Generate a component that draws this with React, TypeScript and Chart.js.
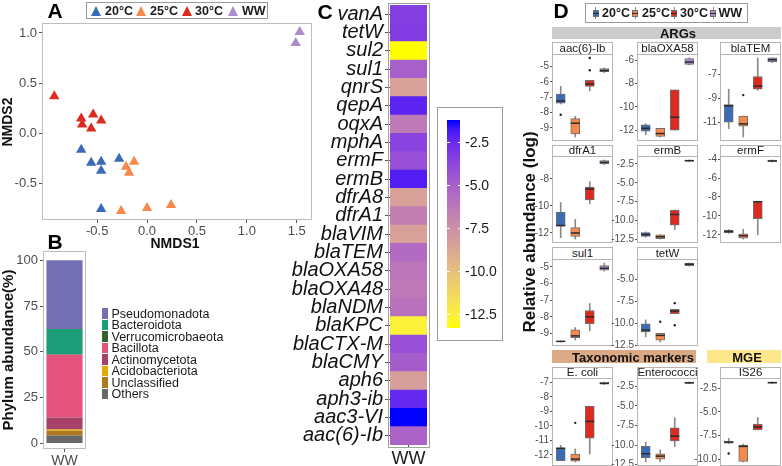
import React, { useEffect, useRef } from 'react';
import { Chart, registerables } from 'chart.js';

Chart.register(...registerables);

const FONT = '"Liberation Sans", Arial, Helvetica, sans-serif';
Chart.defaults.font.family = FONT;
Chart.defaults.color = '#4d4d4d';

// ---------- shared groups ----------
const groups = ['20°C', '25°C', '30°C', 'WW'];
const groupColors = ['#3A6BB5', '#F58A4C', '#DD2A1F', '#AC8DCB'];

// ---------- Panel A: NMDS ----------
const nmds20X = [-0.66, -0.56, -0.46, -0.46, -0.28, -0.46];
const nmds20Y = [-0.16, -0.29, -0.28, -0.37, -0.25, -0.75];
const nmds25X = [-0.13, -0.21, -0.18, -0.26, 0.0, 0.24];
const nmds25Y = [-0.28, -0.33, -0.39, -0.77, -0.74, -0.71];
const nmds30X = [-0.93, -0.66, -0.65, -0.54, -0.46, -0.56];
const nmds30Y = [0.37, 0.15, 0.09, 0.19, 0.13, 0.05];
const nmdsWWX = [1.53, 1.49];
const nmdsWWY = [1.01, 0.9];
const nmdsXTicks = [-0.5, 0, 0.5, 1, 1.5];
const nmdsYTicks = [-0.5, 0, 0.5, 1];

// ---------- Panel B: phylum composition (bottom to top) ----------
const phyla = ['Others', 'Unclassified', 'Acidobacteriota', 'Actinomycetota', 'Bacillota', 'Verrucomicrobaeota', 'Bacteroidota', 'Pseudomonadota'];
const phylumPct = [4.4, 2.6, 0.6, 6.6, 34.2, 0.3, 13.8, 37.5];
const phylumColors = ['#686868', '#AD781F', '#E6AB02', '#A8416A', '#E5527C', '#35622F', '#1B9E77', '#7570B3'];
const phylumTicks = [0, 25, 50, 75, 100];

// ---------- Panel C: heatmap ----------
const genes = ['vanA', 'tetW', 'sul2', 'sul1', 'qnrS', 'qepA', 'oqxA', 'mphA', 'ermF', 'ermB', 'dfrA8', 'dfrA1', 'blaVIM', 'blaTEM', 'blaOXA58', 'blaOXA48', 'blaNDM', 'blaKPC', 'blaCTX-M', 'blaCMY', 'aph6', 'aph3-ib', 'aac3-VI', 'aac(6)-Ib'];
const geneLog = [-3.4, -3.3, -13.3, -5.0, -8.4, -2.2, -6.4, -3.6, -4.2, -2.0, -8.4, -6.7, -8.4, -5.6, -6.2, -6.3, -6.0, -12.6, -4.2, -4.9, -8.3, -2.4, -1.2, -5.2];
const colorbarTicks = [-2.5, -5, -7.5, -10, -12.5];

// ---------- Panel D: boxplot stats [whiskerLow, q1, median, q3, whiskerHigh] per group ----------
const fAac6Ib = [[-7.45, -7.4, -7.25, -6.8, -6.3], [-9.6, -9.4, -8.7, -8.4, -8.25], [-6.6, -6.3, -6.15, -5.9, -5.9], [-5.4, -5.35, -5.27, -5.15, -5.1]];
const oAac6Ib = [[-8.15], [], [-5.25, -4.45], []];
const tAac6Ib = [-9, -8, -7, -6, -5];

const fOXA58 = [[-12.4, -12.1, -11.85, -11.55, -11.45], [-12.6, -12.55, -12.3, -11.85, -11.85], [-12.0, -12.0, -10.9, -8.55, -8.55], [-6.4, -6.35, -6.15, -5.85, -5.8]];
const oOXA58 = [[], [], [], []];
const tOXA58 = [-12, -10, -8, -6];

const fTEM = [[-11.5, -10.95, -9.6, -9.5, -8.2], [-12.2, -11.3, -11.1, -10.45, -10.45], [-8.3, -8.2, -7.95, -7.15, -5.6], [-6.0, -5.9, -5.75, -5.6, -5.6]];
const oTEM = [[], [-8.7], [], []];
const tTEM = [-11, -9, -7];

const fDfrA1 = [[-12.35, -11.5, -11.45, -10.45, -9.75], [-12.45, -12.25, -12.0, -11.6, -11.0], [-9.85, -9.55, -8.75, -8.6, -8.2], [-6.95, -6.9, -6.78, -6.65, -6.6]];
const oDfrA1 = [[], [], [], []];
const tDfrA1 = [-12, -10, -8];

const fErmB = [[-12.2, -12.1, -11.85, -11.6, -11.5], [-12.45, -12.4, -12.15, -11.9, -11.85], [-11.2, -10.6, -9.2, -8.6, -8.6], [-2.2, -2.15, -2.08, -2.0, -1.98]];
const oErmB = [[], [], [], []];
const tErmB = [-12.5, -10, -7.5, -5, -2.5];

const fErmF = [[-11.85, -11.8, -11.65, -11.5, -11.45], [-12.45, -12.35, -12.1, -11.9, -11.4], [-12.0, -10.3, -8.5, -8.5, -8.5], [-4.3, -4.25, -4.18, -4.1, -4.08]];
const oErmF = [[], [], [], []];
const tErmF = [-12, -10, -8, -6, -4];

const fSul1 = [[-9.52, -9.5, -9.48, -9.46, -9.45], [-9.4, -9.25, -9.15, -8.78, -8.65], [-8.85, -8.42, -8.0, -7.62, -7.2], [-5.25, -5.2, -5.08, -4.92, -4.76]];
const oSul1 = [[], [], [], []];
const tSul1 = [-9, -8, -7, -6, -5];

const fTetW = [[-11.5, -10.95, -10.75, -10.05, -9.6], [-12.1, -11.9, -11.35, -11.1, -11.1], [-8.9, -8.9, -8.6, -8.4, -8.4], [-3.5, -3.45, -3.3, -3.2, -3.15]];
const oTetW = [[], [-9.8], [-7.7, -10.2], []];
const tTetW = [-12.5, -10, -7.5, -5];

const fEcoli = [[-12.4, -12.4, -11.55, -11.55, -11.35], [-12.5, -12.45, -12.3, -11.95, -11.6], [-11.95, -10.85, -9.7, -8.65, -8.65], [-7.15, -7.12, -7.08, -7.0, -6.98]];
const oEcoli = [[], [-9.8], [], []];
const tEcoli = [-12, -11, -10, -9, -8, -7];

const fEntero = [[-12.15, -11.6, -11.1, -10.15, -9.6], [-12.1, -11.8, -11.4, -11.1, -10.6], [-10.2, -9.45, -8.85, -7.8, -6.5], [-2.15, -2.12, -2.05, -1.97, -1.95]];
const oEntero = [[], [], [], []];
const tEntero = [-12.5, -10, -7.5, -5, -2.5];

const fIS26 = [[-8.35, -8.3, -8.2, -8.1, -7.8], [-10.3, -10.25, -8.65, -8.55, -8.4], [-6.9, -6.9, -6.6, -6.3, -5.6], [-2.0, -1.97, -1.92, -1.87, -1.85]];
const oIS26 = [[-9.4], [], [], []];
const tIS26 = [-10, -7.5, -5, -2.5];

// ---------- colour helpers (CIELAB interpolation yellow -> blue) ----------
function srgb2lin(c: number) { c /= 255; return c <= 0.04045 ? c / 12.92 : Math.pow((c + 0.055) / 1.055, 2.4); }
function lin2srgb(c: number) { const v = c <= 0.0031308 ? 12.92 * c : 1.055 * Math.pow(c, 1 / 2.4) - 0.055; return Math.round(Math.max(0, Math.min(1, v)) * 255); }
function rgbToLab(rgb: number[]) {
  const [R, G, B] = rgb.map(srgb2lin);
  const X = (0.4124 * R + 0.3576 * G + 0.1805 * B) / 0.95047;
  const Y = 0.2126 * R + 0.7152 * G + 0.0722 * B;
  const Z = (0.0193 * R + 0.1192 * G + 0.9505 * B) / 1.08883;
  const f = (t: number) => (t > 0.008856 ? Math.cbrt(t) : 7.787 * t + 16 / 116);
  const fx = f(X), fy = f(Y), fz = f(Z);
  return [116 * fy - 16, 500 * (fx - fy), 200 * (fy - fz)];
}
function labToRgb(lab: number[]) {
  const [L, a, b] = lab;
  const fy = (L + 16) / 116, fx = fy + a / 500, fz = fy - b / 200;
  const inv = (t: number) => (t * t * t > 0.008856 ? t * t * t : (t - 16 / 116) / 7.787);
  const X = inv(fx) * 0.95047, Y = inv(fy), Z = inv(fz) * 1.08883;
  const R = 3.2406 * X - 1.5372 * Y - 0.4986 * Z;
  const G = -0.9689 * X + 1.8758 * Y + 0.0415 * Z;
  const B = 0.0557 * X - 0.204 * Y + 1.057 * Z;
  return [lin2srgb(R), lin2srgb(G), lin2srgb(B)];
}
const LAB_LOW = rgbToLab([255, 255, 0]);
const LAB_HIGH = rgbToLab([0, 0, 255]);
const vMin = Math.min(...geneLog);
const vMax = Math.max(...geneLog);
function heatColor(v: number) {
  const t = Math.max(0, Math.min(1, (v - vMin) / (vMax - vMin)));
  const lab = LAB_LOW.map((c, i) => c + (LAB_HIGH[i] - c) * t);
  const [r, g, b] = labToRgb(lab);
  return `rgb(${r},${g},${b})`;
}

// ---------- chart helpers ----------
type Rect = { l: number; t: number; r: number; b: number };

const fixedTicks = (vals: number[]) => (scale: any) => { scale.ticks = vals.map((v) => ({ value: v })); };

const framePlugin = (color: string, out = 0) => ({
  id: 'frame',
  afterDraw(chart: any) {
    const { left, top, right, bottom } = chart.chartArea;
    const ctx = chart.ctx;
    ctx.save();
    ctx.strokeStyle = color;
    ctx.lineWidth = 1;
    ctx.strokeRect(Math.round(left - out) + 0.5, Math.round(top - out) + 0.5, Math.round(right - left + 2 * out) - 1, Math.round(bottom - top + 2 * out) - 1);
    ctx.restore();
  },
});

function ChartCanvas({ area, yw, xh, build }: { area: Rect; yw: number; xh: number; build: () => any }) {
  const ref = useRef<HTMLCanvasElement>(null);
  const pad = 12;
  const left = area.l - yw;
  const top = area.t - pad;
  const width = area.r + pad - left;
  const height = area.b + xh + pad - top;
  useEffect(() => {
    const cfg = build();
    cfg.options = cfg.options || {};
    cfg.options.responsive = false;
    cfg.options.animation = false;
    cfg.options.events = [];
    cfg.options.layout = { padding: { left: 0, top: pad, right: pad, bottom: pad }, autoPadding: false };
    cfg.options.plugins = { ...(cfg.options.plugins || {}), legend: { display: false }, tooltip: { enabled: false } };
    const ys = cfg.options.scales.y;
    ys.afterFit = (s: any) => { s.width = yw; };
    const xs = cfg.options.scales.x;
    if (xs.display !== false) xs.afterFit = (s: any) => { s.height = xh; };
    const chart = new Chart(ref.current as HTMLCanvasElement, cfg);
    return () => chart.destroy();
  }, []);
  return <canvas ref={ref} width={width} height={height} style={{ position: 'absolute', left, top, width, height }} />;
}

function padRange(vals: number[]) {
  const lo = Math.min(...vals), hi = Math.max(...vals);
  const p = (hi - lo) * 0.05;
  return [lo - p, hi + p];
}

const tickGrid = (len: number) => ({ display: true, drawOnChartArea: false, drawTicks: true, tickLength: len, tickColor: '#555', offset: false });

// ---------- Panel A chart ----------
function buildNmds() {
  const xs = [nmds20X, nmds25X, nmds30X, nmdsWWX];
  const ys = [nmds20Y, nmds25Y, nmds30Y, nmdsWWY];
  const [x0, x1] = padRange(xs.flat());
  const [y0, y1] = padRange(ys.flat());
  return {
    type: 'scatter',
    data: {
      datasets: groups.map((g, i) => ({
        label: g,
        data: xs[i].map((x, j) => ({ x, y: ys[i][j] })),
        pointStyle: 'triangle',
        pointRadius: 6,
        backgroundColor: groupColors[i],
        borderWidth: 0,
      })),
    },
    options: {
      scales: {
        x: { type: 'linear', min: x0, max: x1, afterBuildTicks: fixedTicks(nmdsXTicks), ticks: { callback: (v: any) => Number(v).toFixed(1), font: { size: 13 }, color: '#4d4d4d', padding: 1, autoSkip: false, maxRotation: 0 }, grid: tickGrid(3), border: { display: false } },
        y: { type: 'linear', min: y0, max: y1, afterBuildTicks: fixedTicks(nmdsYTicks), ticks: { callback: (v: any) => Number(v).toFixed(1), font: { size: 13 }, color: '#4d4d4d', padding: 2, autoSkip: false }, grid: tickGrid(3), border: { display: false } },
      },
    },
    plugins: [framePlugin('#bdbdbd')],
  };
}

// ---------- Panel B chart ----------
function buildPhylum() {
  return {
    type: 'bar',
    data: {
      labels: ['WW'],
      datasets: phyla.map((p, i) => ({ label: p, data: [phylumPct[i]], backgroundColor: phylumColors[i], borderWidth: 0, barPercentage: 0.84, categoryPercentage: 1 })),
    },
    options: {
      scales: {
        x: { stacked: true, ticks: { font: { size: 14 }, color: '#4d4d4d', padding: 1 }, grid: tickGrid(3), border: { display: false } },
        y: { stacked: true, min: -3, max: 105, afterBuildTicks: fixedTicks(phylumTicks), ticks: { font: { size: 13 }, color: '#4d4d4d', padding: 2, autoSkip: false }, grid: tickGrid(3), border: { display: false } },
      },
    },
    plugins: [framePlugin('#bdbdbd')],
  };
}

// ---------- Panel C chart ----------
function buildHeat() {
  return {
    type: 'bar',
    data: {
      labels: genes,
      datasets: [{ label: 'WW', data: genes.map(() => 1), backgroundColor: geneLog.map(heatColor), borderWidth: 0, barPercentage: 1, categoryPercentage: 1 }],
    },
    options: {
      indexAxis: 'y',
      scales: {
        x: { type: 'linear', min: 0, max: 1, afterBuildTicks: fixedTicks([0.5]), ticks: { callback: () => 'WW', font: { size: 18 }, color: '#1a1a1a', padding: 0 }, grid: tickGrid(3), border: { display: false } },
        y: { ticks: { font: { size: 20, style: 'italic' }, color: '#111', padding: 2, autoSkip: false }, grid: tickGrid(5), border: { display: false } },
      },
    },
    plugins: [framePlugin('#a0a0a0', 2.5)],
  };
}

// ---------- Panel D facet ----------
function buildFacet(stats: number[][], outl: number[][], ticks: number[]) {
  const [y0, y1] = padRange([...stats.flat(), ...outl.flat()]);
  const dec = ticks.some((t) => Math.round(t) !== t) ? 1 : 0;
  return {
    type: 'bar',
    data: {
      datasets: [
        { type: 'bar', data: stats.map((s, i) => ({ x: i, y: [s[0], s[4]] })), backgroundColor: '#8a8a8a', borderWidth: 0, barThickness: 1, grouped: false, order: 4 },
        { type: 'bar', data: stats.map((s, i) => ({ x: i, y: [s[1], s[3]] })), backgroundColor: groupColors, borderColor: '#6f6f6f', borderWidth: 1, borderSkipped: false, barThickness: 9, grouped: false, order: 3 },
        { type: 'line', data: stats.map((s, i) => ({ x: i, y: s[2] })), showLine: false, pointStyle: 'line', pointRadius: 4.5, pointBorderColor: '#2b2b2b', pointBorderWidth: 1.5, order: 2 },
        { type: 'line', data: outl.flatMap((o, i) => o.map((v) => ({ x: i, y: v }))), showLine: false, pointStyle: 'circle', pointRadius: 1.2, pointBackgroundColor: '#222', pointBorderWidth: 0, order: 1 },
      ],
    },
    options: {
      scales: {
        x: { type: 'linear', min: -0.6, max: 3.6, offset: false, display: false },
        y: { type: 'linear', min: y0, max: y1, afterBuildTicks: fixedTicks(ticks), ticks: { callback: (v: any) => Number(v).toFixed(dec), font: { size: 10 }, color: '#4d4d4d', padding: 1, autoSkip: false }, grid: tickGrid(2), border: { display: false } },
      },
    },
    plugins: [framePlugin('#b5b5b5')],
  };
}

const cols = [[552, 613], [637, 698], [720, 781]];
const rows = [[54, 141], [156, 243], [259, 346], [378, 466]];
const strips = [[42, 54], [145, 156], [247, 259], [367, 378]];
const facets = [
  { name: 'aac(6)-Ib', s: fAac6Ib, o: oAac6Ib, t: tAac6Ib, r: 0, c: 0 },
  { name: 'blaOXA58', s: fOXA58, o: oOXA58, t: tOXA58, r: 0, c: 1 },
  { name: 'blaTEM', s: fTEM, o: oTEM, t: tTEM, r: 0, c: 2 },
  { name: 'dfrA1', s: fDfrA1, o: oDfrA1, t: tDfrA1, r: 1, c: 0 },
  { name: 'ermB', s: fErmB, o: oErmB, t: tErmB, r: 1, c: 1 },
  { name: 'ermF', s: fErmF, o: oErmF, t: tErmF, r: 1, c: 2 },
  { name: 'sul1', s: fSul1, o: oSul1, t: tSul1, r: 2, c: 0 },
  { name: 'tetW', s: fTetW, o: oTetW, t: tTetW, r: 2, c: 1 },
  { name: 'E. coli', s: fEcoli, o: oEcoli, t: tEcoli, r: 3, c: 0 },
  { name: 'Enterococci', s: fEntero, o: oEntero, t: tEntero, r: 3, c: 1 },
  { name: 'IS26', s: fIS26, o: oIS26, t: tIS26, r: 3, c: 2 },
];

// ---------- text helpers ----------
function T({ x, y, children, size = 12, bold = false, italic = false, color = '#1a1a1a', anchor = 'center' }: any) {
  const tx = anchor === 'left' ? '0' : anchor === 'right' ? '-100%' : '-50%';
  return (
    <div style={{ position: 'absolute', left: x, top: y, transform: `translate(${tx},-50%)`, fontSize: size, fontWeight: bold ? 700 : 400, fontStyle: italic ? 'italic' : 'normal', color, lineHeight: 1, whiteSpace: 'nowrap', fontFamily: FONT }}>
      {children}
    </div>
  );
}

function RotT({ x, y, children, size, bold }: any) {
  return (
    <div style={{ position: 'absolute', left: x, top: y, transform: 'translate(-50%,-50%) rotate(-90deg)', fontSize: size, fontWeight: bold ? 700 : 400, color: '#111', lineHeight: 1, whiteSpace: 'nowrap', fontFamily: FONT }}>
      {children}
    </div>
  );
}

function Tri({ cx, cy, color }: any) {
  return <div style={{ position: 'absolute', left: cx - 5.5, top: cy - 5, width: 0, height: 0, borderLeft: '5.5px solid transparent', borderRight: '5.5px solid transparent', borderBottom: `10px solid ${color}` }} />;
}

function BoxIcon({ cx, cy, color }: any) {
  return (
    <div style={{ position: 'absolute', left: cx - 3, top: cy - 6, width: 6, height: 12 }}>
      <div style={{ position: 'absolute', left: 2.5, top: 0, width: 1, height: 12, background: '#8a8a8a' }} />
      <div style={{ position: 'absolute', left: 0, top: 2.5, width: 6, height: 7, background: color, border: '1px solid #6f6f6f', boxSizing: 'border-box' }} />
      <div style={{ position: 'absolute', left: 0, top: 5.5, width: 6, height: 1.2, background: '#2b2b2b' }} />
    </div>
  );
}

// colour bar geometry
const cbTop = 120, cbBottom = 328, cbLeft = 447, cbWidth = 13;
const cbY = (v: number) => cbTop + ((vMax - v) / (vMax - vMin)) * (cbBottom - cbTop);
const cbGradient = `linear-gradient(to top, ${Array.from({ length: 21 }, (_, i) => `${heatColor(vMin + ((vMax - vMin) * i) / 20)} ${i * 5}%`).join(', ')})`;

export default function App() {
  const legendA = [[96.5, 105], [141, 150], [187.5, 195], [233.5, 242]];
  const legendD = [[595.5, 602], [635, 642], [674, 680], [713, 718.5]];
  const legendB = ['Pseudomonadota', 'Bacteroidota', 'Verrucomicrobaeota', 'Bacillota', 'Actinomycetota', 'Acidobacteriota', 'Unclassified', 'Others'];
  return (
    <div style={{ position: 'fixed', left: 0, top: 0, width: 782, height: 466, overflow: 'hidden', background: '#fff', fontFamily: FONT }}>
      {/* Panel A */}
      <ChartCanvas area={{ l: 42, t: 23, r: 312, b: 220 }} yw={42} xh={20} build={buildNmds} />
      {/* Panel B */}
      <ChartCanvas area={{ l: 43, t: 251, r: 86, b: 449 }} yw={43} xh={17} build={buildPhylum} />
      {/* Panel C */}
      <ChartCanvas area={{ l: 390, t: 3, r: 427, b: 445 }} yw={160} xh={21} build={buildHeat} />
      {/* Panel D facets */}
      {facets.map((f) => (
        <ChartCanvas key={f.name} area={{ l: cols[f.c][0], t: rows[f.r][0], r: cols[f.c][1], b: rows[f.r][1] }} yw={30} xh={0} build={() => buildFacet(f.s, f.o, f.t)} />
      ))}

      {/* Panel letters */}
      <T x={55} y={10} size={21} bold color="#000">A</T>
      <T x={55} y={240.5} size={21} bold color="#000">B</T>
      <T x={325} y={11} size={21} bold color="#000">C</T>
      <T x={561} y={9.5} size={21} bold color="#000">D</T>

      {/* Panel A legend */}
      <div style={{ position: 'absolute', left: 86, top: 2, width: 182, height: 17, border: '1px solid #9a9a9a', boxSizing: 'border-box' }} />
      {groups.map((g, i) => (
        <React.Fragment key={g}>
          <Tri cx={legendA[i][0]} cy={10.5} color={groupColors[i]} />
          <T x={legendA[i][1]} y={10.5} size={12.5} bold anchor="left">{g}</T>
        </React.Fragment>
      ))}
      <RotT x={7} y={122} size={14} bold>NMDS2</RotT>
      <T x={175} y={243} size={14} bold color="#111">NMDS1</T>

      {/* Panel B legend and axis title */}
      <RotT x={7} y={350} size={15} bold>Phylum abundance(%)</RotT>
      {legendB.map((p, i) => (
        <React.Fragment key={p}>
          <div style={{ position: 'absolute', left: 102, top: 308 + i * 11.55, width: 6, height: 10.5, background: phylumColors[phyla.indexOf(p)] }} />
          <T x={111.5} y={313.5 + i * 11.55} size={12.5} anchor="left">{p}</T>
        </React.Fragment>
      ))}

      {/* Panel C colour bar */}
      <div style={{ position: 'absolute', left: 437, top: 107, width: 66, height: 234, border: '1px solid #9a9a9a', boxSizing: 'border-box' }} />
      <div style={{ position: 'absolute', left: cbLeft, top: cbTop, width: cbWidth, height: cbBottom - cbTop, background: cbGradient }} />
      {colorbarTicks.map((v) => (
        <React.Fragment key={v}>
          <div style={{ position: 'absolute', left: cbLeft, top: cbY(v) - 0.5, width: 2.5, height: 1, background: '#fff' }} />
          <div style={{ position: 'absolute', left: cbLeft + cbWidth - 2.5, top: cbY(v) - 0.5, width: 2.5, height: 1, background: '#fff' }} />
          <T x={465} y={cbY(v)} size={14} anchor="left">{v.toFixed(1)}</T>
        </React.Fragment>
      ))}

      {/* Panel D legend */}
      <div style={{ position: 'absolute', left: 585, top: 3, width: 163, height: 20, border: '1px solid #9a9a9a', boxSizing: 'border-box' }} />
      {groups.map((g, i) => (
        <React.Fragment key={g}>
          <BoxIcon cx={legendD[i][0]} cy={13} color={groupColors[i]} />
          <T x={legendD[i][1]} y={13} size={12.5} bold anchor="left">{g}</T>
        </React.Fragment>
      ))}
      <RotT x={529} y={232} size={17} bold>Relative abundance (log)</RotT>

      {/* Group headers */}
      <div style={{ position: 'absolute', left: 552, top: 27, width: 229, height: 12, background: '#cccccc' }} />
      <T x={678} y={33} size={13} bold color="#111">ARGs</T>
      <div style={{ position: 'absolute', left: 552, top: 350, width: 144, height: 12.5, background: '#DCA985' }} />
      <T x={572} y={356.5} size={13} bold color="#111" anchor="left">Taxonomic markers</T>
      <div style={{ position: 'absolute', left: 707, top: 350, width: 74, height: 12.5, background: '#FDE68C' }} />
      <T x={747} y={356.5} size={13} bold color="#111">MGE</T>

      {/* Facet strips */}
      {facets.map((f) => (
        <React.Fragment key={'s' + f.name}>
          <div style={{ position: 'absolute', left: cols[f.c][0], top: strips[f.r][0], width: cols[f.c][1] - cols[f.c][0], height: strips[f.r][1] - strips[f.r][0] + 1, border: '1px solid #b5b5b5', background: '#fff', boxSizing: 'border-box' }} />
          <T x={(cols[f.c][0] + cols[f.c][1]) / 2} y={(strips[f.r][0] + strips[f.r][1]) / 2 + 0.5} size={11.5} color="#1a1a1a">{f.name}</T>
        </React.Fragment>
      ))}
    </div>
  );
}
